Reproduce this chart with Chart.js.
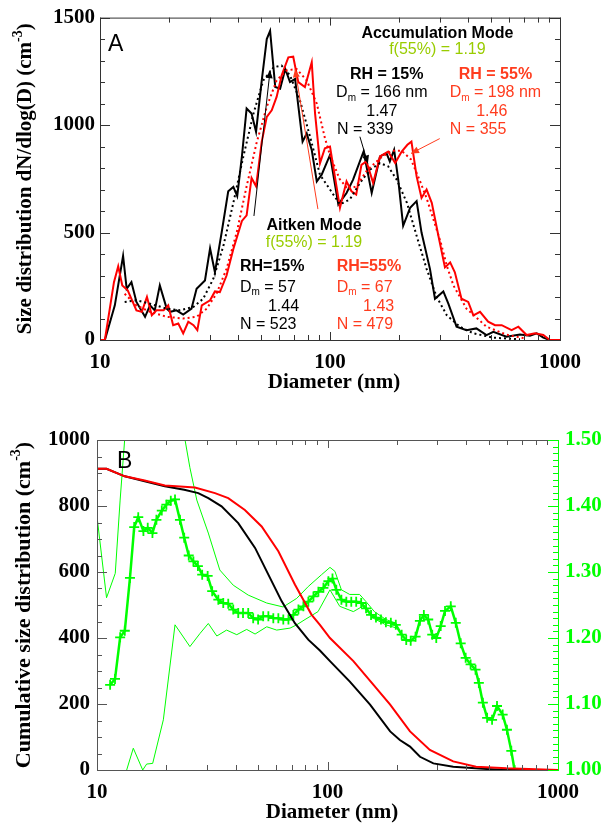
<!DOCTYPE html>
<html><head><meta charset="utf-8">
<script src="https://cdn.jsdelivr.net/npm/chart.js@4.4.1/dist/chart.umd.min.js"></script>
<style>
html,body{margin:0;padding:0;background:#fff;width:604px;height:824px;overflow:hidden;}
canvas{position:absolute;left:0;}
#ca{top:0}
#cb{top:412px}
</style></head><body>
<canvas id="ca" width="604" height="412"></canvas>
<canvas id="cb" width="604" height="412"></canvas>
<script>
// ---------------- Panel A data (dN/dlog(D), cm^-3) ----------------
const aD15 = [10, 10.5, 11.6, 12.6, 13.06, 13.7, 14.4, 15.7, 16.5, 17.3, 18.2, 19.5, 20.2, 21.5, 23.0, 25.0, 26.3, 28.6, 30.1, 31.6, 33.8, 36.1, 38.0, 39.5, 41.4, 43.4, 45.6, 47.7, 50.5, 53.1, 54.9, 57.8, 60.7, 63.9, 67.0, 70.5, 76.0, 79.2, 83.3, 87.6, 92.0, 100, 108.7, 118, 126, 140, 151.8, 165, 176, 182, 190, 198, 208, 223, 238, 250, 272, 286, 311, 327, 355, 392, 433, 479, 513, 585, 670, 740, 792, 846, 903, 1000];
const aN15 = [0, 0, 161, 392, 238, 269, 177, 108, 161, 138, 254, 146, 131, 138, 118, 146, 238, 277, 426, 315, 500, 692, 712, 669, 854, 1077, 1054, 969, 1208, 1400, 1438, 1177, 1169, 1261, 1200, 1215, 923, 961, 884, 738, 769, 861, 631, 684, 746, 877, 684, 854, 869, 831, 885, 746, 531, 615, 646, 500, 331, 192, 226, 169, 62, 46, 54, 23, 38, 15, 26, 20, 31, 11, 0, 0];
const aD55 = [10, 10.5, 11.5, 12.0, 12.5, 13.2, 14.4, 15.2, 16.0, 16.8, 17.6, 18.9, 19.8, 20.8, 21.9, 23.0, 24.2, 25.5, 26.5, 27.7, 30.1, 31.6, 33.2, 35.5, 38.0, 41.4, 43.4, 45.6, 47.7, 50.5, 53.1, 55.8, 58.6, 61.6, 65.9, 69.2, 72.8, 77.8, 83.3, 86.1, 90.5, 95, 100, 105, 110.5, 118, 124, 130, 137, 144, 154, 165, 179, 192, 205, 217, 226, 238, 250, 263, 277, 296, 316, 333, 349, 373, 399, 420, 449, 487, 522, 558, 616, 659, 716, 779, 846, 903, 1000];
const aN55 = [0, 0, 269, 343, 254, 231, 138, 131, 200, 115, 138, 138, 161, 69, 77, 31, 85, 69, 46, 161, 185, 226, 223, 300, 423, 554, 580, 754, 715, 923, 1038, 1069, 1131, 1231, 1315, 1318, 1200, 1177, 1292, 1054, 823, 892, 900, 761, 615, 738, 692, 677, 815, 831, 731, 854, 877, 823, 877, 908, 923, 761, 661, 700, 638, 485, 338, 361, 315, 192, 177, 115, 131, 85, 69, 69, 46, 62, 23, 31, 23, 0, 0];
const aFitD15 = [12.8, 14.4, 16.5, 19.5, 22.3, 25.5, 28.1, 31.1, 34.4, 38.0, 42.0, 46.5, 51.3, 56.9, 61.6, 67, 74, 81.9, 90.5, 100, 110.5, 122, 135, 149, 165, 179, 195, 216, 238, 263, 291, 322, 367, 420, 513, 670];
const aFitN15 = [177, 185, 169, 146, 138, 154, 192, 285, 438, 638, 854, 1054, 1208, 1269, 1277, 1231, 1115, 946, 768, 700, 631, 654, 731, 792, 823, 808, 746, 638, 485, 331, 200, 115, 62, 31, 11, 3];
const aFitD55 = [12.8, 14.4, 16.5, 19.5, 23.0, 26.3, 29.1, 32.1, 35.5, 39.3, 43.4, 47.9, 53.1, 58.6, 64.8, 71.6, 79.2, 87.6, 95, 100, 110, 120, 130, 145, 165, 185, 205, 225, 245, 263, 280, 303, 322, 344, 392, 479, 585, 700];
const aFitN55 = [215, 161, 131, 108, 100, 108, 146, 215, 331, 500, 715, 915, 1085, 1208, 1254, 1261, 1208, 1100, 940, 860, 750, 700, 715, 790, 845, 880, 880, 840, 745, 660, 570, 454, 346, 254, 146, 62, 25, 8];

// ---------------- Panel B data ----------------
const bD15 = [10, 11.0, 13.2, 16.1, 19.7, 23.9, 27.5, 30.4, 34.7, 41.0, 48.5, 55.4, 63.3, 72.2, 82.5, 92.7, 102.5, 125, 153, 187, 206, 228, 252, 288, 351, 490, 600, 1000];
const bCum15 = [913, 913, 890, 875, 860, 849, 839, 824, 799, 748, 673, 592, 511, 445, 395, 362, 330, 268, 198, 117, 91, 71, 40, 20, 10, 3, 0, 0];
const bD55 = [10, 11.0, 13.2, 16.1, 19.7, 26.6, 32.5, 37.1, 43.8, 51.8, 61.2, 72.2, 85.2, 92.7, 102.5, 129.5, 158, 187, 228, 278, 351, 441, 597, 1000];
const bCum55 = [913, 913, 890, 877, 862, 856, 839, 824, 788, 738, 663, 562, 471, 440, 400, 330, 259, 198, 117, 61, 26, 10, 5, 0];
const bRatioD = [11.4, 11.97, 12.6, 13.2, 13.9, 14.5, 15.1, 15.9, 16.6, 17.4, 18.1, 19.1, 20.0, 20.9, 21.8, 22.9, 23.9, 25.0, 26.2, 27.4, 28.6, 30.2, 31.6, 33.6, 35.3, 37.1, 39.0, 41.0, 43.0, 45.3, 47.6, 50.0, 52.6, 55.4, 58.2, 61.2, 64.3, 67.7, 71.1, 74.8, 78.6, 82.6, 86.9, 91.3, 96.0, 100.9, 105.1, 109.2, 114.9, 120.7, 126.8, 133.2, 140.0, 147, 154.5, 162.3, 170.6, 179.2, 188.3, 197.8, 209.8, 219.6, 229.6, 241, 251.6, 261.8, 273.5, 284.7, 296.4, 309.8, 323.5, 342.6, 360.1, 378.3, 397.5, 417.6, 438.8, 453.5, 472, 492.6, 517.6, 543.8, 575.3, 600.4, 627.2, 648];
const bRatio = [1.129, 1.138, 1.201, 1.211, 1.291, 1.368, 1.383, 1.362, 1.367, 1.359, 1.379, 1.393, 1.402, 1.408, 1.410, 1.379, 1.352, 1.325, 1.316, 1.309, 1.296, 1.294, 1.271, 1.258, 1.253, 1.252, 1.243, 1.238, 1.238, 1.238, 1.230, 1.228, 1.233, 1.233, 1.230, 1.230, 1.228, 1.228, 1.235, 1.243, 1.248, 1.255, 1.263, 1.270, 1.276, 1.286, 1.290, 1.273, 1.258, 1.255, 1.255, 1.255, 1.253, 1.245, 1.235, 1.231, 1.228, 1.224, 1.223, 1.220, 1.205, 1.197, 1.196, 1.202, 1.226, 1.235, 1.228, 1.205, 1.200, 1.218, 1.241, 1.248, 1.223, 1.192, 1.170, 1.160, 1.152, 1.132, 1.102, 1.079, 1.076, 1.097, 1.084, 1.061, 1.029, 1.000];
const bUpD = [10, 11.0, 12.0, 12.6, 13.2, 14.0, 16.0, 19.0, 22.0, 24.1, 25.3, 27.1, 30.4, 34.1, 39.0, 45.3, 54.5, 64.2, 73.5, 82.5, 94.3, 102.5, 107.7, 114.9, 124.8, 137.8, 147, 159.7, 179.2, 200];
const bUp = [1.384, 1.261, 1.298, 1.409, 1.503, 1.62, 1.75, 1.78, 1.65, 1.50, 1.458, 1.409, 1.359, 1.303, 1.280, 1.265, 1.253, 1.247, 1.260, 1.278, 1.296, 1.307, 1.301, 1.273, 1.266, 1.266, 1.255, 1.240, 1.228, 1.222];
const bLoD = [13.45, 14.37, 15.79, 16.42, 17.44, 19.4, 21.8, 25.3, 28.0, 30.4, 33.1, 36.5, 40.4, 44.6, 48.5, 54.5, 60.2, 68.8, 73.5, 79.9, 91.0, 102.5, 113, 129.5, 142, 158, 179, 200];
const bLo = [1.0, 1.033, 1.0, 1.009, 1.01, 1.076, 1.22, 1.187, 1.207, 1.222, 1.203, 1.212, 1.205, 1.213, 1.206, 1.217, 1.212, 1.215, 1.22, 1.228, 1.240, 1.273, 1.248, 1.240, 1.248, 1.230, 1.220, 1.215];

// ---------------- ticks ----------------
const xTicks = [10, 20, 30, 40, 50, 60, 70, 80, 90, 100, 200, 300, 400, 500, 600, 700, 800, 900, 1000];
const xLabels = [10, 100, 1000];

const SERIF = '"Liberation Serif","Times New Roman",serif';
const SANS = '"Liberation Sans",Arial,sans-serif';
const RED = '#ff0000', ORANGE = '#ff3c1e', YG = '#99cc00', LIME = '#00ff00';

const pts = (xs, ys) => xs.map((x, i) => ({ x: x, y: ys[i] }));

function fontStr(size, family, bold) { return (bold ? 'bold ' : '') + size + 'px ' + family; }
function drawRich(ctx, segs, x, y, o) {
  const size = o.size || 16, family = o.family || SANS, bold = !!o.bold;
  const fs = k => fontStr(k ? Math.round(size * 0.65) : size, family, bold);
  let w = 0;
  segs.forEach(s => { ctx.font = fs(s[1]); w += ctx.measureText(s[0]).width; });
  let cx = o.align === 'center' ? x - w / 2 : (o.align === 'right' ? x - w : x);
  ctx.fillStyle = o.color || '#000';
  ctx.textAlign = 'left'; ctx.textBaseline = 'middle';
  segs.forEach(s => {
    ctx.font = fs(s[1]);
    const dy = s[1] === 'sub' ? size * 0.32 : (s[1] === 'sup' ? -size * 0.36 : 0);
    ctx.fillText(s[0], cx, y + dy);
    cx += ctx.measureText(s[0]).width;
  });
}
function seg(ctx, x1, y1, x2, y2) { ctx.beginPath(); ctx.moveTo(x1, y1); ctx.lineTo(x2, y2); ctx.stroke(); }
function arrow(ctx, x1, y1, x2, y2, color) {
  ctx.strokeStyle = color; ctx.fillStyle = color; ctx.lineWidth = 1;
  seg(ctx, x1, y1, x2, y2);
  const a = Math.atan2(y2 - y1, x2 - x1), L = 8, W = 3.5;
  ctx.beginPath();
  ctx.moveTo(x2, y2);
  ctx.lineTo(x2 - L * Math.cos(a) + W * Math.sin(a), y2 - L * Math.sin(a) - W * Math.cos(a));
  ctx.lineTo(x2 - L * Math.cos(a) - W * Math.sin(a), y2 - L * Math.sin(a) + W * Math.cos(a));
  ctx.closePath(); ctx.fill();
}
function xTickMarks(chart, color) {
  const { ctx, chartArea: a, scales } = chart;
  ctx.strokeStyle = color; ctx.lineWidth = 1;
  xTicks.forEach(v => {
    const px = Math.round(scales.x.getPixelForValue(v)) + 0.5;
    const L = xLabels.includes(v) ? 8 : 5;
    seg(ctx, px, a.bottom, px, a.bottom - L);
    seg(ctx, px, a.top, px, a.top + L);
  });
}
function yTickMarks(chart, scale, step, majorEvery, n, side, color) {
  const { ctx, chartArea: a } = chart;
  ctx.strokeStyle = color; ctx.lineWidth = 1;
  for (let i = 0; i <= n; i++) {
    const v = scale.min + i * step;
    const py = Math.round(scale.getPixelForValue(v)) + 0.5;
    const L = (i % majorEvery === 0) ? 10 : 5;
    if (side === 'left' || side === 'both') seg(ctx, a.left, py, a.left + L, py);
    if (side === 'right' || side === 'both') seg(ctx, a.right, py, a.right - L, py);
  }
}
function vTitle(ctx, segs, x, y, size) {
  ctx.save(); ctx.translate(x, y); ctx.rotate(-Math.PI / 2);
  drawRich(ctx, segs, 0, 0, { size: size, family: SERIF, bold: true, align: 'center', color: '#000' });
  ctx.restore();
}

// ---------------- annotations for panel A (anchored in data space) ----------------
const notesA = [
  { d: 10.83, v: 1372, align: 'left', size: 23, segs: [['A']] },
  { d: 293, v: 1426, align: 'center', bold: true, segs: [['Accumulation Mode']] },
  { d: 293, v: 1350, align: 'center', color: YG, segs: [['f(55%) = 1.19']] },
  { d: 176.4, v: 1237, align: 'center', bold: true, segs: [['RH = 15%']] },
  { d: 168, v: 1149, align: 'center', segs: [['D'], ['m', 'sub'], [' = 166 nm']] },
  { d: 168, v: 1061, align: 'center', segs: [['1.47']] },
  { d: 107.3, v: 978, align: 'left', segs: [['N = 339']] },
  { d: 524, v: 1237, align: 'center', bold: true, color: ORANGE, segs: [['RH = 55%']] },
  { d: 524, v: 1149, align: 'center', color: ORANGE, segs: [['D'], ['m', 'sub'], [' = 198 nm']] },
  { d: 505, v: 1061, align: 'center', color: ORANGE, segs: [['1.46']] },
  { d: 332, v: 978, align: 'left', color: ORANGE, segs: [['N = 355']] },
  { d: 85.2, v: 531, align: 'center', bold: true, segs: [['Aitken Mode']] },
  { d: 85.2, v: 454, align: 'center', color: YG, segs: [['f(55%) = 1.19']] },
  { d: 40.6, v: 343, align: 'left', bold: true, segs: [['RH=15%']] },
  { d: 40.6, v: 246, align: 'left', segs: [['D'], ['m', 'sub'], [' = 57']] },
  { d: 53.7, v: 157, align: 'left', segs: [['1.44']] },
  { d: 40.6, v: 74, align: 'left', segs: [['N = 523']] },
  { d: 106.9, v: 343, align: 'left', bold: true, color: ORANGE, segs: [['RH=55%']] },
  { d: 106.9, v: 246, align: 'left', color: ORANGE, segs: [['D'], ['m', 'sub'], [' = 67']] },
  { d: 139.2, v: 157, align: 'left', color: ORANGE, segs: [['1.43']] },
  { d: 106.9, v: 74, align: 'left', color: ORANGE, segs: [['N = 479']] }
];
const arrowsA = [
  { from: [46.7, 577], to: [54.9, 1255], color: '#000' },
  { from: [88.6, 609], to: [70.5, 1260], color: ORANGE },
  { from: [134.9, 946], to: [146.1, 821], color: '#000' },
  { from: [300, 937], to: [225, 868], color: ORANGE }
];

const decoA = {
  id: 'decoA',
  afterDatasetsDraw(chart) {
    const { ctx, chartArea: a, scales } = chart;
    ctx.save();
    ctx.strokeStyle = '#333'; ctx.lineWidth = 1;
    ctx.strokeRect(a.left + 0.5, a.top + 0.5, a.right - a.left, a.bottom - a.top);
    xTickMarks(chart, '#333');
    yTickMarks(chart, scales.y, 100, 5, 15, 'both', '#333');
    arrowsA.forEach(r => arrow(ctx, scales.x.getPixelForValue(r.from[0]), scales.y.getPixelForValue(r.from[1]),
      scales.x.getPixelForValue(r.to[0]), scales.y.getPixelForValue(r.to[1]), r.color));
    notesA.forEach(n => drawRich(ctx, n.segs, scales.x.getPixelForValue(n.d), scales.y.getPixelForValue(n.v),
      { size: n.size || 16, bold: n.bold, align: n.align, color: n.color || '#000' }));
    vTitle(ctx, [['Size distribution dN/dlog(D) (cm'], ['-3', 'sup'], [')']], 26, (a.top + a.bottom) / 2, 21);
    drawRich(ctx, [['Diameter (nm)']], 334, 383, { size: 21, family: SERIF, bold: true, align: 'center' });
    ctx.restore();
  }
};

const decoB = {
  id: 'decoB',
  afterDatasetsDraw(chart) {
    const { ctx, chartArea: a, scales } = chart;
    ctx.save();
    ctx.strokeStyle = '#555'; ctx.lineWidth = 1;
    seg(ctx, a.left + 0.5, a.top + 0.5, a.right, a.top + 0.5);
    seg(ctx, a.left + 0.5, a.top, a.left + 0.5, a.bottom);
    seg(ctx, a.left, a.bottom + 0.5, a.right, a.bottom + 0.5);
    xTickMarks(chart, '#555');
    yTickMarks(chart, scales.y, 50, 4, 20, 'left', '#555');
    ctx.strokeStyle = LIME;
    seg(ctx, a.right + 0.5, a.top, a.right + 0.5, a.bottom + 1);
    yTickMarks(chart, scales.y2, 0.01, 10, 50, 'right', LIME);
    drawRich(ctx, [['B']], scales.x.getPixelForValue(12.2), scales.y.getPixelForValue(934), { size: 23, align: 'left' });
    vTitle(ctx, [['Cumulative size distribution (cm'], ['-3', 'sup'], [')']], 24, (a.top + a.bottom) / 2, 22);
    drawRich(ctx, [['Diameter (nm)']], 332, 401, { size: 21, family: SERIF, bold: true, align: 'center' });
    ctx.restore();
  }
};

const tickFont = { family: SERIF, size: 21, weight: 'bold' };
function xScale(h) {
  return {
    type: 'logarithmic', min: 10, max: 1000,
    afterBuildTicks: s => { s.ticks = xTicks.map(v => ({ value: v })); },
    afterFit: s => { s.height = h; },
    grid: { display: false, drawTicks: false }, border: { display: false },
    ticks: { autoSkip: false, maxRotation: 0, minRotation: 0, padding: 10, color: '#000', font: tickFont,
      callback: v => xLabels.includes(v) ? String(v) : '' }
  };
}
const line = (data, color, w, dash, extra) => Object.assign({
  data: data, borderColor: color, backgroundColor: color, borderWidth: w, borderDash: dash || [],
  pointRadius: 0, tension: 0, fill: false
}, extra || {});

new Chart(document.getElementById('ca'), {
  type: 'line',
  data: {
    datasets: [
      line(pts(aFitD55, aFitN55), RED, 2, [2, 3]),
      line(pts(aFitD15, aFitN15), '#000', 2, [2, 3]),
      line(pts(aD55, aN55), RED, 2),
      line(pts(aD15, aN15), '#000', 2)
    ]
  },
  options: {
    responsive: false, animation: false, devicePixelRatio: 1, parsing: true,
    layout: { padding: { top: 15, right: 44, left: 0, bottom: 0 } },
    plugins: { legend: { display: false }, tooltip: { enabled: false } },
    scales: {
      x: xScale(72),
      y: {
        min: 0, max: 1500, afterFit: s => { s.width = 100; },
        grid: { display: false, drawTicks: false }, border: { display: false },
        ticks: { stepSize: 100, autoSkip: false, padding: 5, color: '#000', font: tickFont,
          callback: v => (v % 500 === 0 ? String(v) : '') }
      }
    }
  },
  plugins: [decoA]
});

new Chart(document.getElementById('cb'), {
  type: 'line',
  data: {
    datasets: [
      line(pts(bD55, bCum55), RED, 2, null, { yAxisID: 'y' }),
      line(pts(bD15, bCum15), '#000', 2, null, { yAxisID: 'y' }),
      line(pts(bUpD, bUp), LIME, 1, null, { yAxisID: 'y2' }),
      line(pts(bLoD, bLo), LIME, 1, null, { yAxisID: 'y2' }),
      line(pts(bRatioD, bRatio), LIME, 2.5, null, { yAxisID: 'y2', pointStyle: 'cross', pointRadius: 5, pointBorderWidth: 1.8, pointBorderColor: LIME })
    ]
  },
  options: {
    responsive: false, animation: false, devicePixelRatio: 1,
    layout: { padding: { top: 28, right: 0, left: 0, bottom: 0 } },
    plugins: { legend: { display: false }, tooltip: { enabled: false } },
    scales: {
      x: xScale(54),
      y: {
        position: 'left', min: 0, max: 1000, afterFit: s => { s.width = 97; },
        grid: { display: false, drawTicks: false }, border: { display: false },
        ticks: { stepSize: 200, autoSkip: false, padding: 7, color: '#000', font: tickFont,
          callback: v => String(v) }
      },
      y2: {
        position: 'right', min: 1.0, max: 1.5, afterFit: s => { s.width = 46; },
        grid: { display: false, drawTicks: false }, border: { display: false },
        ticks: { stepSize: 0.1, autoSkip: false, padding: 7, color: LIME, font: tickFont,
          callback: v => v.toFixed(2) }
      }
    }
  },
  plugins: [decoB]
});
</script>
</body></html>
